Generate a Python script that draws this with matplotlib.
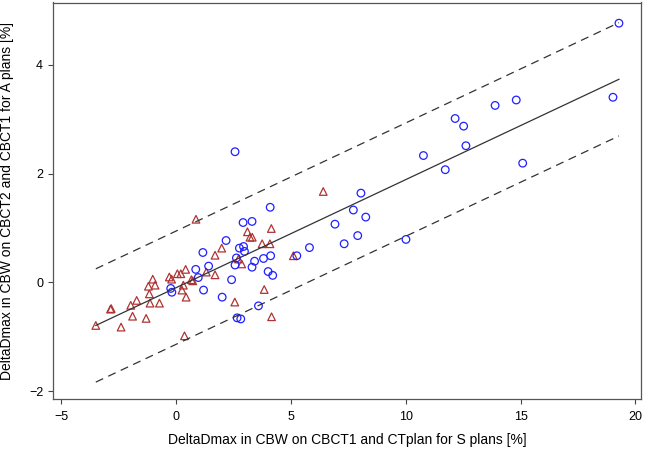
import numpy as np
import matplotlib
matplotlib.use("Agg")
import matplotlib.pyplot as plt

plt.rcParams['font.family'] = ['Liberation Sans', 'DejaVu Sans']

# S plans vs A plans, triangles (red) and circles (blue)
tri_x = [-3.49, -2.85, -2.82, -2.39, -1.97, -1.71, -1.89, -1.30, -1.13, -0.72,
         -1.16, -1.20, -1.01, -0.91, -0.29, -0.19, 0.06, 0.21, 0.42, 0.32,
         0.26, 0.44, 0.67, 0.73, 0.37, 1.32, 0.87, 1.70, 1.70, 1.99,
         2.56, 2.72, 2.86, 3.11, 3.22, 3.32, 3.75, 4.09, 4.15, 3.84,
         4.16, 5.11, 6.41]
tri_y = [-0.79, -0.49, -0.48, -0.82, -0.42, -0.33, -0.62, -0.66, -0.38, -0.38,
         -0.21, -0.07, 0.06, -0.05, 0.10, 0.06, 0.16, 0.16, 0.24, -0.05,
         -0.14, -0.27, 0.05, 0.03, -0.98, 0.19, 1.16, 0.50, 0.14, 0.63,
         -0.36, 0.43, 0.34, 0.93, 0.83, 0.83, 0.71, 0.71, 0.99, -0.13,
         -0.63, 0.49, 1.67]

circ_x = [2.57, 4.10, 2.92, 3.31, 2.18, 1.17, 0.86, 1.42, 0.97, -0.23,
          -0.18, 1.20, 2.01, 2.42, 2.57, 2.63, 2.76, 2.94, 2.98, 3.42,
          3.31, 3.81, 4.12, 4.01, 4.21, 3.59, 2.66, 2.82, 5.26, 5.81,
          6.92, 7.32, 7.72, 7.91, 8.05, 8.26, 10.01, 10.77, 11.72, 12.15,
          12.52, 12.62, 13.89, 14.81, 15.09, 19.02, 19.28]
circ_y = [2.40, 1.38, 1.10, 1.12, 0.77, 0.55, 0.24, 0.30, 0.09, -0.11,
          -0.18, -0.14, -0.27, 0.05, 0.32, 0.45, 0.63, 0.66, 0.57, 0.39,
          0.28, 0.44, 0.49, 0.20, 0.13, -0.43, -0.65, -0.67, 0.49, 0.64,
          1.07, 0.71, 1.33, 0.86, 1.64, 1.20, 0.79, 2.33, 2.07, 3.01,
          2.87, 2.51, 3.25, 3.35, 2.19, 3.40, 4.76]

# regression line and band
fit_slope = 0.1985
fit_intercept = -0.097
band = 1.04

x_ticks = [-5, 0, 5, 10, 15, 20]
y_ticks = [-2, 0, 2, 4]

W, H = 646, 451
fig = plt.figure(figsize=(W / 100, H / 100), dpi=100)
ax = fig.add_axes([53.3 / W, 1 - 399 / H, (641 - 53.3) / W, (399 - 2.5) / H])

all_x = np.array(tri_x + circ_x)
xl = np.array([all_x.min(), all_x.max()])
yl = fit_intercept + fit_slope * xl
ax.plot(xl, yl, color='#333333', lw=0.9)
ax.plot(xl, yl + band, color='#333333', lw=0.9, dashes=(6.5, 4.5))
ax.plot(xl, yl - band, color='#333333', lw=0.9, dashes=(6.5, 4.5))

ax.scatter(tri_x, tri_y, marker='^', s=30, facecolors='none',
           edgecolors='#b03434', linewidths=0.9)
ax.scatter(circ_x, circ_y, marker='o', s=30, facecolors='none',
           edgecolors='#2020ff', linewidths=0.9)

ax.set_xlim(-5.34, 20.24)
ax.set_ylim(-2.14, 5.14)
ax.set_xticks(x_ticks)
ax.set_yticks(y_ticks)
ax.tick_params(direction='out', length=3.8, width=0.8, color='#444444',
               labelsize=9)
ax.tick_params(axis='x', pad=5)
ax.tick_params(axis='y', pad=3.5)
for s in ax.spines.values():
    s.set_color('#555555')
    s.set_linewidth(0.9)

ax.set_xlabel('DeltaDmax in CBW on CBCT1 and CTplan for S plans [%]', fontsize=10, labelpad=7)
ax.set_ylabel('DeltaDmax in CBW on CBCT2 and CBCT1 for A plans [%]', fontsize=10, labelpad=11)

fig.savefig('out.png', dpi=100)
